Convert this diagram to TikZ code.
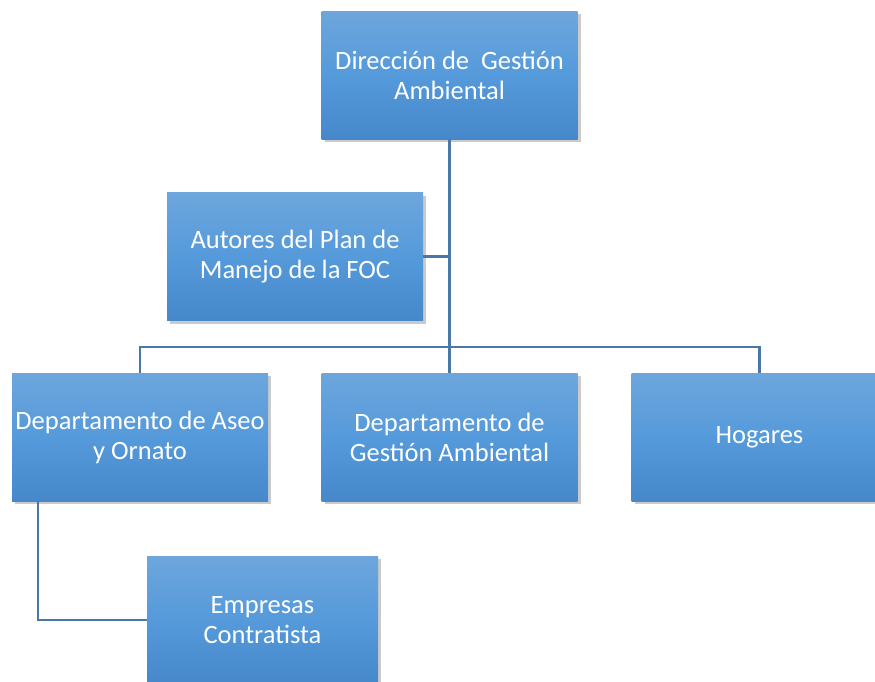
\documentclass[tikz,border=0pt]{standalone}
\usepackage{fontspec}
\setmainfont{Carlito}
\usetikzlibrary{shadows}
\definecolor{boxtop}{HTML}{6DA6DC}
\definecolor{boxmid}{HTML}{559ADB}
\definecolor{boxbot}{HTML}{4688CA}
\definecolor{linec}{HTML}{4A78A6}
\tikzset{
  orgbox/.style={rectangle, minimum width=256, minimum height=128, inner sep=0pt,
    top color=boxtop, bottom color=boxbot, middle color=boxmid,
    text=white, align=center, font=\fontsize{26.5}{30}\selectfont,
    drop shadow={shadow xshift=3pt, shadow yshift=-3pt, opacity=0.35, fill=black!60}},
  conn/.style={draw=linec, line width=2.5pt}
}
\begin{document}
\begin{tikzpicture}[x=1pt,y=1pt]
\useasboundingbox (0,0) rectangle (875,-681);
\clip (0,0) rectangle (875,-681);
\node[orgbox] (dir) at (449.5,-75) {Dirección de\ \ Gestión\\Ambiental};
\node[orgbox] (aut) at (295,-256.5) {Autores del Plan de\\Manejo de la FOC};
\node[orgbox] (aseo) at (140,-437) {Departamento de Aseo\\y Ornato};
\node[orgbox] (gest) at (449.5,-437) {Departamento de\\Gestión Ambiental};
\node[orgbox] (hog) at (759.5,-437) {Hogares};
\node[orgbox, minimum width=231] (emp) at (262.5,-620) {Empresas\\Contratista};
\coordinate (busL) at ([yshift=26]aseo.north);
\coordinate (asdrop) at ([xshift=-102]aseo.south);
\draw[conn] (dir.south) -- (gest.north);
\draw[conn] (aut.east) -- (aut.east -| dir.south);
\draw[conn] (aseo.north) -- (busL) -| (hog.north);
\draw[conn] (asdrop) |- (emp.west);
\end{tikzpicture}
\end{document}
